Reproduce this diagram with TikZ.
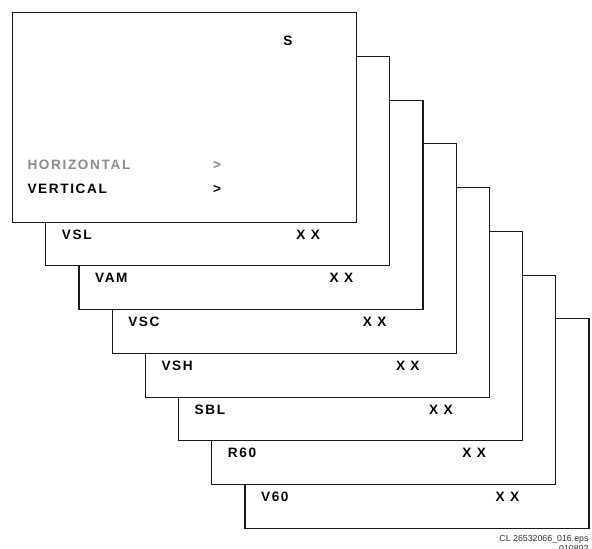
\documentclass[tikz,border=0pt]{standalone}
\usepackage{fontspec}
\setmainfont{Liberation Sans}
\newfontfamily\osdfont[LetterSpace=12]{Liberation Sans Bold}
\usetikzlibrary{calc}
\definecolor{cLine}{HTML}{1A1A1A}
\definecolor{cDim}{HTML}{8C8C8C}
\tikzset{
  scr/.style ={draw=cLine,fill=white,line width=1.1pt,anchor=north west,
               minimum width=344pt,minimum height=209.5pt,inner sep=0pt},
  osd/.style ={font=\osdfont\fontsize{13.6}{15}\selectfont,
               inner sep=0pt,text=black},
  dim/.style ={osd,text=cDim},
  ftr/.style ={font=\fontsize{8.8}{9}\selectfont,inner sep=0pt,
               anchor=base east,text=black!80},
}

\begin{document}
\begin{tikzpicture}[x=1pt,y=-1pt]
\useasboundingbox (0,0) rectangle (592,549);

% ===== stacked sub-menu screens, back to front ===========================
\foreach \k/\lbl in {7/V60,6/R60,5/SBL,4/VSH,3/VSC,2/VAM,1/VSL}{
  \node[scr] (scr\k) at ({12+33.2*\k},{12+43.75*\k}) {};
  \node[osd,anchor=base west] (nm\k)  at ($(scr\k.north west)+(16.5,183.3)$) {\lbl};
  \node[osd,anchor=base]      (val\k) at ($(scr\k.north west)+(263,183.3)$)  {X X};
}

% ===== front screen ======================================================
\node[scr] (scr0) at (12,12) {};
\node[osd,anchor=base]      (src)    at (288,45.7)   {S};
\node[dim,anchor=base west] (hor)    at (27.3,169)   {HORIZONTAL};
\node[dim,anchor=base]      (horArr) at (217,169)    {>};
\node[osd,anchor=base west] (ver)    at (27.3,193.7) {VERTICAL};
\node[osd,anchor=base]      (verArr) at (217,193.7)  {>};

% ===== file tag ==========================================================
\node[ftr] (fn1) at (588.7,541.5) {CL 26532066\_016.eps};
\node[ftr] (fn2) at (588.7,551)   {010802};
\end{tikzpicture}
\end{document}
